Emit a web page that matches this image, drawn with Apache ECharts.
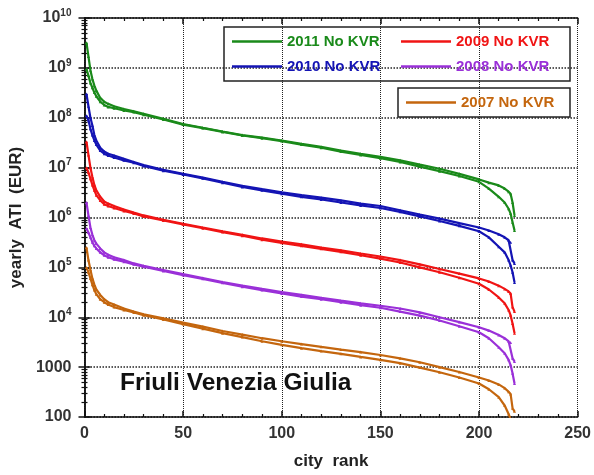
<!DOCTYPE html>
<html>
<head>
<meta charset="utf-8">
<script src="https://cdn.jsdelivr.net/npm/echarts@6/dist/echarts.min.js"></script>
<style>html,body{margin:0;padding:0;background:#fff;}#c{width:594px;height:475px;}</style>
</head>
<body>
<div id="c"></div>
<script>
const ranks = [1,2,3,4,5,6,8,10,12,15,20,25,30,40,50,60,70,80,90,100,110,120,130,140,150,160,170,180,190,200,205,210,213,215,216,217,218];

const y2011a = [3.2e9,1.7e9,9e8,6e8,4.4e8,3.5e8,2.5e8,2.1e8,1.9e8,1.7e8,1.5e8,1.35e8,1.2e8,9.5e7,7.5e7,6.3e7,5.3e7,4.5e7,4e7,3.5e7,3e7,2.6e7,2.2e7,1.9e7,1.65e7,1.4e7,1.15e7,9.5e6,7.5e6,5.8e6,5e6,4.4e6,3.8e6,3.3e6,3e6,2e6,1.1e6];
const y2011b = [9.5e8,7e8,5e8,4e8,3.2e8,2.7e8,2.1e8,1.8e8,1.65e8,1.55e8,1.4e8,1.3e8,1.15e8,9.2e7,7.3e7,6.2e7,5.2e7,4.4e7,3.9e7,3.4e7,2.9e7,2.5e7,2.1e7,1.8e7,1.55e7,1.3e7,1.05e7,8.5e6,6.8e6,5.2e6,3.8e6,2.6e6,2e6,1.5e6,1.2e6,8e5,5.5e5];

const y2010a = [3e8,1.7e8,1e8,7e7,4.5e7,3.5e7,2.5e7,2.1e7,1.9e7,1.75e7,1.5e7,1.3e7,1.12e7,9e6,7.5e6,6.3e6,5.2e6,4.3e6,3.7e6,3.2e6,2.8e6,2.5e6,2.2e6,1.9e6,1.7e6,1.4e6,1.15e6,9.5e5,7.7e5,6.3e5,5.5e5,4.6e5,4e5,3.5e5,3.2e5,1.4e5,1.2e5];
const y2010b = [1.1e8,9e7,6e7,4.5e7,3.5e7,2.9e7,2.2e7,1.9e7,1.75e7,1.6e7,1.4e7,1.25e7,1.08e7,8.7e6,7.3e6,6.1e6,5e6,4.1e6,3.5e6,3e6,2.6e6,2.3e6,2e6,1.75e6,1.55e6,1.3e6,1.05e6,8.5e5,6.8e5,5.3e5,4e5,2.6e5,2e5,1.4e5,1.1e5,8e4,5e4];

const y2009a = [3.3e7,1.8e7,1e7,6.5e6,4.5e6,3.5e6,2.6e6,2.1e6,1.9e6,1.7e6,1.45e6,1.25e6,1.1e6,9e5,7.5e5,6.3e5,5.3e5,4.5e5,3.8e5,3.3e5,2.9e5,2.5e5,2.2e5,1.9e5,1.65e5,1.4e5,1.15e5,9.3e4,7.5e4,6e4,5.2e4,4.3e4,3.7e4,3.3e4,3e4,1.6e4,1.3e4];
const y2009b = [1e7,8e6,6e6,4.5e6,3.5e6,2.8e6,2.2e6,1.85e6,1.7e6,1.55e6,1.35e6,1.2e6,1.05e6,8.7e5,7.3e5,6.1e5,5.1e5,4.3e5,3.6e5,3.1e5,2.7e5,2.35e5,2.05e5,1.75e5,1.5e5,1.25e5,1e5,8e4,6.2e4,4.7e4,3.6e4,2.5e4,1.9e4,1.4e4,1.1e4,7.5e3,4.8e3];

const y2008a = [2e6,1.1e6,6.3e5,4.5e5,3.5e5,3e5,2.4e5,2e5,1.8e5,1.6e5,1.4e5,1.2e5,1.08e5,8.8e4,7.3e4,6.1e4,5.1e4,4.3e4,3.7e4,3.2e4,2.8e4,2.45e4,2.15e4,1.9e4,1.7e4,1.5e4,1.25e4,1e4,8e3,6.3e3,5.4e3,4.4e3,3.8e3,3.3e3,3.1e3,1.5e3,1.3e3];
const y2008b = [6e5,5e5,4e5,3.2e5,2.7e5,2.4e5,2e5,1.75e5,1.6e5,1.45e5,1.3e5,1.15e5,1.03e5,8.5e4,7e4,5.9e4,4.9e4,4.1e4,3.5e4,3e4,2.6e4,2.3e4,2e4,1.75e4,1.55e4,1.3e4,1.08e4,8.6e3,6.6e3,5e3,3.8e3,2.5e3,1.9e3,1.4e3,1.1e3,750,470];

const y2007a = [2.5e5,1.4e5,9e4,6e4,4.5e4,3.6e4,2.8e4,2.3e4,2e4,1.8e4,1.5e4,1.3e4,1.15e4,9.5e3,7.8e3,6.5e3,5.3e3,4.5e3,3.8e3,3.3e3,2.9e3,2.55e3,2.25e3,2e3,1.75e3,1.5e3,1.25e3,1e3,800,620,540,450,380,320,290,150,130];
const y2007b = [1e5,8e4,6e4,4.5e4,3.5e4,2.9e4,2.3e4,2e4,1.8e4,1.6e4,1.4e4,1.25e4,1.1e4,9e3,7.3e3,5.9e3,4.8e3,4e3,3.3e3,2.8e3,2.4e3,2.1e3,1.85e3,1.6e3,1.4e3,1.2e3,980,790,620,470,360,250,170,115,90,70,55];

const xTicks = [0,50,100,150,200,250];
const yTicks = [100,1000,1e4,1e5,1e6,1e7,1e8,1e9,1e10];

const names = ['2011 No KVR','2010 No KVR','2009 No KVR','2008 No KVR','2007 No KVR'];
const colors = ['#1a8a1a','#1414b4','#f01414','#9a30d8','#c4660e'];
const seriesData = [[y2011a,y2011b],[y2010a,y2010b],[y2009a,y2009b],[y2008a,y2008b],[y2007a,y2007b]];

const FONT = 'Liberation Sans, Arial, sans-serif';

function pairs(ys){ return ranks.map((r,i)=>[r, ys[i]]); }

const series = [];
seriesData.forEach((pair, k) => {
  pair.forEach((ys) => {
    series.push({
      name: names[k], type: 'line', xAxisIndex: 0, yAxisIndex: 0,
      data: pairs(ys), symbol: 'triangle', symbolSize: 3, showSymbol: true,
      lineStyle: {color: colors[k], width: 2.2}, itemStyle: {color: colors[k]},
      animation: false, clip: true
    });
  });
});

function yLabel(v){
  if (v === 100) return '100';
  if (v === 1000) return '1000';
  const e = Math.round(Math.log10(v));
  return '10{sup|' + e + '}';
}

function legendItem(k, w){
  return {name: names[k], icon: 'rect', textStyle: {color: colors[k], width: w}};
}

const chart = echarts.init(document.getElementById('c'), null, {renderer:'canvas'});
chart.setOption({
  backgroundColor: '#fff',
  animation: false,
  grid: {left: 84, right: 16, top: 18, bottom: 53},
  legend: [
    {
      left: 224, top: 27, width: 330, orient: 'horizontal',
      padding: [6, 8, 6, 8], itemGap: 8, itemWidth: 50, itemHeight: 2.5,
      borderColor: '#222', borderWidth: 1.5,
      data: [legendItem(0, 106), legendItem(2, 106), legendItem(1, 106), legendItem(3, 106)],
      textStyle: {fontFamily: FONT, fontWeight: 'bold', fontSize: 15, lineHeight: 17}
    },
    {
      left: 398, top: 88, orient: 'horizontal',
      padding: [6, 8, 6, 8], itemWidth: 50, itemHeight: 2.5,
      borderColor: '#222', borderWidth: 1.5,
      data: [legendItem(4, 101)],
      textStyle: {fontFamily: FONT, fontWeight: 'bold', fontSize: 15, lineHeight: 17}
    }
  ],
  xAxis: [
    {
      type: 'value', min: 0, max: 250, interval: 50, position: 'bottom',
      name: 'city  rank', nameLocation: 'middle', nameGap: 36,
      nameTextStyle: {fontFamily: FONT, fontWeight: 'bold', fontSize: 17, color: '#222'},
      axisLine: {lineStyle: {color: '#111', width: 1.5}},
      axisTick: {inside: true, length: 6, lineStyle: {color: '#111', width: 1.5}},
      minorTick: {show: true, splitNumber: 5, length: 3, lineStyle: {color: '#111', width: 1.2}},
      axisLabel: {fontFamily: FONT, fontWeight: 'bold', fontSize: 16, color: '#333', margin: 9},
      splitLine: {show: true, lineStyle: {color: '#222', type: 'dotted', width: 1}}
    },
    {
      type: 'value', min: 0, max: 250, interval: 50, position: 'top',
      axisLine: {lineStyle: {color: '#111', width: 1.5}},
      axisTick: {inside: true, length: 6, lineStyle: {color: '#111', width: 1.5}},
      minorTick: {show: true, splitNumber: 5, length: 3, lineStyle: {color: '#111', width: 1.2}},
      axisLabel: {show: false}, splitLine: {show: false}
    }
  ],
  yAxis: [
    {
      type: 'log', logBase: 10, min: 100, max: 1e10, position: 'left',
      name: 'yearly  ATI  (EUR)', nameLocation: 'middle', nameGap: 52, nameRotate: 90,
      nameTextStyle: {fontFamily: FONT, fontWeight: 'bold', fontSize: 17, color: '#222'},
      axisLine: {lineStyle: {color: '#111', width: 1.5}},
      axisTick: {inside: true, length: 6, lineStyle: {color: '#111', width: 1.5}},
      minorTick: {show: true, splitNumber: 9, length: 3, lineStyle: {color: '#111', width: 1.2}},
      axisLabel: {
        fontFamily: FONT, fontWeight: 'bold', fontSize: 16, color: '#333', margin: 13,
        formatter: yLabel,
        rich: {sup: {fontFamily: FONT, fontWeight: 'bold', fontSize: 10, color: '#333', verticalAlign: 'top', padding: [0, 0, 10, 0]}}
      },
      splitLine: {show: true, lineStyle: {color: '#222', type: 'dotted', width: 1.5}}
    },
    {
      type: 'log', logBase: 10, min: 100, max: 1e10, position: 'right',
      axisLine: {lineStyle: {color: '#111', width: 1.5}},
      axisTick: {inside: true, length: 6, lineStyle: {color: '#111', width: 1.5}},
      minorTick: {show: true, splitNumber: 9, length: 3, lineStyle: {color: '#111', width: 1.2}},
      axisLabel: {show: false}, splitLine: {show: false}
    }
  ],
  graphic: [
    {
      type: 'text', left: 120, top: 371,
      style: {text: 'Friuli Venezia Giulia', fontFamily: FONT, fontWeight: 'bold', fontSize: 24.5, fill: '#111'}
    }
  ],
  series: series
});
</script>
</body>
</html>
